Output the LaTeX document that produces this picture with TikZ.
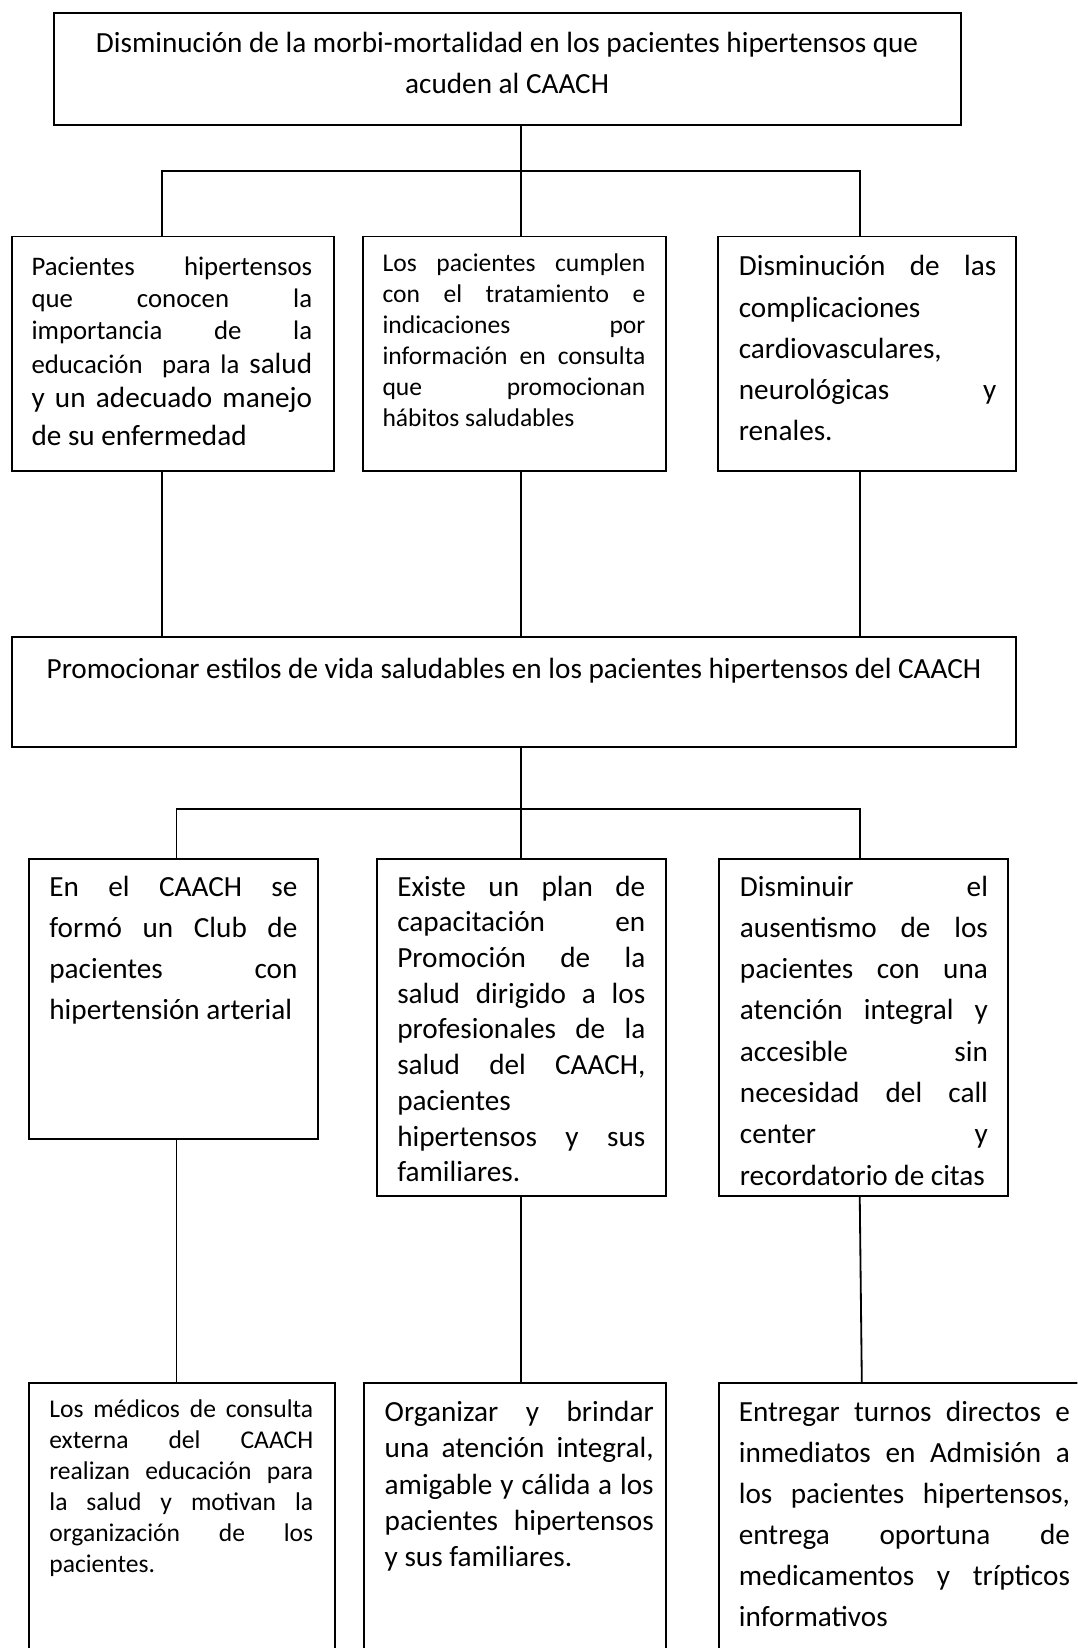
\documentclass[tikz,border=0pt]{standalone}
\usepackage{fontspec}
\setmainfont{Carlito}
\usetikzlibrary{fit}
\newlength\bw
\newcommand\jl[1]{\makebox[\bw][s]{#1}}
\newcommand\st{\rule{0pt}{0.9em}}
\newcommand\W[1]{\pgfmathsetlength{\bw}{#1*0.4317}}
\newcommand\bigf{\fontsize{12}{13.1}\selectfont}
\begin{document}
\begin{tikzpicture}[x=0.4317pt,y=-0.4317pt,
  box/.style={draw, line width=0.8pt, inner sep=0pt, outer sep=0pt},
  txt/.style={anchor=north west, inner sep=0pt, outer sep=0pt, align=left},
  ctxt/.style={anchor=north, inner sep=0pt, outer sep=0pt, align=center},
  conn/.style={line width=0.75pt}]
\clip (0,0) rectangle (1025,1568);

% boxes
\node[box, fit={(51,12) (914,119)}] (T) {};
\node[box, fit={(11,225) (318,448)}] (A) {};
\node[box, fit={(345,225) (634,448)}] (B) {};
\node[box, fit={(683,225) (967,448)}] (C) {};
\node[box, fit={(11,606) (967,711)}] (M) {};
\node[box, fit={(28,817) (303,1084)}] (D) {};
\node[box, fit={(359,817) (634,1138)}] (E) {};
\node[box, fit={(684,817) (959,1138)}] (F) {};
\node[box, fit={(28,1316) (319,1640)}] (G) {};
\node[box, fit={(346,1316) (634,1640)}] (H) {};
\node[box, fit={(684,1316) (1040,1640)}] (I) {};

% texts
\node[ctxt, font=\fontsize{12}{16.84}\selectfont] (tT) at (482.5,24.5)
  {\st Disminución de la morbi-mortalidad en los pacientes hipertensos que\\acuden al CAACH};

\W{267}
\node[txt, font=\fontsize{11}{13.1}\selectfont] (tA) at (30,239.6)
  {\jl{\st Pacientes hipertensos}\\
   \jl{que conocen la}\\
   \jl{importancia de la}\\[0.75pt]
   \jl{educación\ \ para la {\bigf salud}}\\[1pt]
   \jl{\bigf y un adecuado manejo}\\[2.4pt]
   {\bigf de su enfermedad}};

\W{250}
\node[txt, font=\fontsize{10.5}{12.69}\selectfont] (tB) at (364,236.6)
  {\jl{\st Los pacientes cumplen}\\
   \jl{con el tratamiento e}\\
   \jl{indicaciones por}\\
   \jl{información en consulta}\\
   \jl{que promocionan}\\
   hábitos saludables};

\W{245}
\node[txt, font=\fontsize{12}{16.92}\selectfont] (tC) at (703,237.5)
  {\jl{\st Disminución de las}\\
   complicaciones\\
   cardiovasculares,\\
   \jl{neurológicas y}\\
   renales.};

\node[ctxt, font=\fontsize{12}{16.84}\selectfont] (tM) at (489,621)
  {\st Promocionar estilos de vida saludables en los pacientes hipertensos del CAACH};

\W{236}
\node[txt, font=\fontsize{12}{16.97}\selectfont] (tD) at (47,827.5)
  {\jl{\st En el CAACH se}\\
   \jl{formó un Club de}\\
   \jl{pacientes con}\\
   hipertensión arterial};

\node[txt, font=\fontsize{12}{14.68}\selectfont] (tE) at (378,827.5)
  {\jl{\st Existe un plan de}\\
   \jl{capacitación en}\\
   \jl{Promoción de la}\\
   \jl{salud dirigido a los}\\
   \jl{profesionales de la}\\
   \jl{salud del CAACH,}\\
   pacientes\\
   \jl{hipertensos y sus}\\
   familiares.};

\node[txt, font=\fontsize{12}{16.97}\selectfont] (tF) at (704,827.5)
  {\jl{\st Disminuir el}\\
   \jl{ausentismo de los}\\
   \jl{pacientes con una}\\
   \jl{atención integral y}\\
   \jl{accesible sin}\\
   \jl{necesidad del call}\\
   \jl{center y}\\
   recordatorio de citas};

\W{251}
\node[txt, font=\fontsize{10.5}{12.78}\selectfont] (tG) at (47,1326.5)
  {\jl{\st Los médicos de consulta}\\
   \jl{externa del CAACH}\\
   \jl{realizan educación para}\\
   \jl{la salud y motivan la}\\
   \jl{organización de los}\\
   pacientes.};

\W{256}
\node[txt, font=\fontsize{12}{14.89}\selectfont] (tH) at (366,1327.5)
  {\jl{\st Organizar y brindar}\\
   \jl{una atención integral,}\\
   \jl{amigable y cálida a los}\\
   \jl{pacientes hipertensos}\\
   y sus familiares.};

\W{315}
\node[txt, font=\fontsize{12}{16.84}\selectfont] (tI) at (703,1327.5)
  {\jl{\st Entregar turnos directos e}\\
   \jl{inmediatos en Admisión a}\\
   \jl{los pacientes hipertensos,}\\
   \jl{entrega oportuna de}\\
   \jl{medicamentos y trípticos}\\
   informativos};

% junctions
\coordinate (j1m) at (496,163);
\coordinate (j1l) at (154,163);
\coordinate (j1r) at (818,163);
\coordinate (j2m) at (496,770);
\coordinate (j2l) at (168,770);
\coordinate (j2r) at (818,770);
\coordinate (j3r) at (820,1316);

% connectors
\draw[conn] (T.south -| j1m) -- (j1m);
\draw[conn] (A.north -| j1l) -- (j1l) -- (j1r) -- (C.north -| j1r);
\draw[conn] (j1m) -- (B.north -| j1m);
\draw[conn] (A.south -| j1l) -- (M.north -| j1l);
\draw[conn] (B.south -| j1m) -- (M.north -| j1m);
\draw[conn] (C.south -| j1r) -- (M.north -| j1r);
\draw[conn] (M.south -| j2m) -- (j2m);
\draw[conn] (D.north -| j2l) -- (j2l) -- (j2r) -- (F.north -| j2r);
\draw[conn] (j2m) -- (E.north -| j2m);
\draw[conn] (D.south -| j2l) -- (G.north -| j2l);
\draw[conn] (E.south -| j2m) -- (H.north -| j2m);
\draw[conn] (F.south -| j2r) -- (I.north -| j3r);
\end{tikzpicture}
\end{document}
